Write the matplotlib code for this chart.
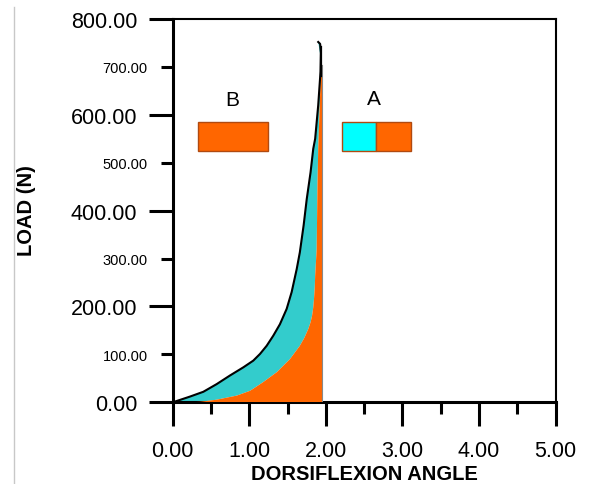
import matplotlib
matplotlib.use("Agg")
import matplotlib.pyplot as plt
from matplotlib.patches import Rectangle
from matplotlib.lines import Line2D
import numpy as np

plt.rcParams['font.family'] = ['Liberation Sans', 'DejaVu Sans']

# ---- data ----
# outer (black) load curve: dorsiflexion angle vs load
black_x = [0.00, 0.226, 0.40, 0.574, 0.748, 0.922, 1.052, 1.14, 1.227, 1.313, 1.40,
           1.488, 1.553, 1.619, 1.66, 1.71, 1.75, 1.80, 1.835, 1.86, 1.90, 1.93, 1.935, 1.925, 1.90]
black_y = [0, 12, 22, 38, 56, 73, 87, 101, 118, 139, 163,
           195, 230, 278, 313, 370, 424, 480, 529, 550, 620, 690, 730, 748, 752]
# inner (orange) boundary curve
orange_x = [0.20, 0.356, 0.574, 0.836, 1.01, 1.18, 1.36, 1.53, 1.66, 1.72, 1.77, 1.80, 1.82,
            1.835, 1.845, 1.855, 1.86, 1.87, 1.88, 1.89, 1.90, 1.92, 1.93, 1.945]
orange_y = [0, 1, 5.5, 14, 24, 42, 63, 90, 118, 135, 153, 167, 181,
            198, 216, 240, 264, 292, 320, 450, 529, 620, 669, 705]
end_angle = 1.95          # right edge of the shaded regions
tail_y = [680, 742]       # short black segment along the right edge near the top

x_major = [0, 1, 2, 3, 4, 5]
x_minor = [0.5, 1.5, 2.5, 3.5, 4.5]
y_major = [0, 200, 400, 600, 800]
y_minor = [100, 300, 500, 700]

legend_labels = ['B', 'A']

CYAN_FILL = '#33CCCC'
ORANGE = '#FF6600'
CYAN_LEG = '#00FFFF'
EDGE = '#B04A10'

fig = plt.figure(figsize=(5.94, 4.85), dpi=100)
ax = fig.add_axes([0.2907, 0.1684, 0.6448, 0.7904])

# cyan band between black curve and orange curve
poly_x = list(black_x) + list(orange_x[::-1])
poly_y = list(black_y) + list(orange_y[::-1])
ax.fill(poly_x, poly_y, color=CYAN_FILL, lw=0, zorder=2)
# orange area from orange curve to the end angle
ox = list(orange_x) + [end_angle, end_angle]
oy = list(orange_y) + [orange_y[-1], 0]
ax.fill(ox, oy, color=ORANGE, lw=0, zorder=3)
ax.plot([end_angle, end_angle], [0, orange_y[-1]], color='#888888', lw=0.8, zorder=4)
ax.plot(black_x, black_y, color='black', lw=1.5, zorder=5)
ax.plot([end_angle - 0.01, end_angle - 0.01], tail_y, color='black', lw=1.6, zorder=5)

# legend boxes
ax.add_patch(Rectangle((0.33, 525), 0.92, 60, facecolor=ORANGE, edgecolor=EDGE, lw=1, zorder=6))
ax.add_patch(Rectangle((2.21, 525), 0.44, 60, facecolor=CYAN_LEG, edgecolor=EDGE, lw=1, zorder=6))
ax.add_patch(Rectangle((2.65, 525), 0.46, 60, facecolor=ORANGE, edgecolor=EDGE, lw=1, zorder=6))
ax.text(0.78, 632, legend_labels[0], fontsize=15, ha='center', va='center')
ax.text(2.63, 635, legend_labels[1], fontsize=15, ha='center', va='center')

ax.set_xlim(0, 5)
ax.set_ylim(0, 800)

ax.set_xticks(x_major)
ax.set_xticklabels([f"{v:.2f}" for v in x_major], fontsize=15.5)
ax.set_xticks(x_minor, minor=True)
ax.set_yticks(y_major)
ax.set_yticklabels([f"{v:.2f}" for v in y_major], fontsize=15.5)
ax.set_yticks(y_minor, minor=True)
ax.set_yticklabels([f"{v:.2f}" for v in y_minor], minor=True, fontsize=10.5)

ax.tick_params(axis='both', which='major', direction='out', length=17, width=2.2, color='black')
ax.tick_params(axis='both', which='minor', direction='out', length=8.5, width=2.2, color='black')
ax.tick_params(axis='x', which='major', pad=10)
ax.tick_params(axis='y', which='major', pad=8.5)
ax.tick_params(axis='y', which='minor', pad=9.5)

for s in ['left', 'bottom']:
    ax.spines[s].set_linewidth(2.2)
for s in ['top', 'right']:
    ax.spines[s].set_linewidth(1.5)

fig.text(26/594, 1 - 211/485, 'LOAD (N)', rotation=90, fontsize=14.5, fontweight='bold',
         ha='center', va='center')
fig.text(364/594, 1 - 475/485, 'DORSIFLEXION ANGLE', fontsize=14.5, fontweight='bold',
         ha='center', va='center')

fig.add_artist(Line2D([14/594, 14/594], [0, 1 - 8/485], color='#c8c8c8', lw=1))

fig.savefig('out.png', dpi=100)
